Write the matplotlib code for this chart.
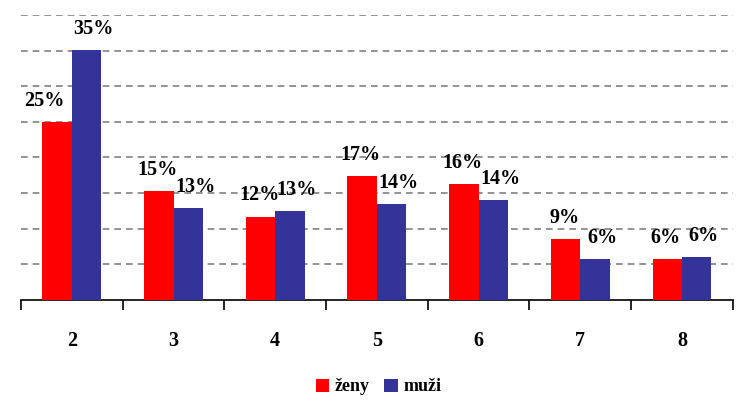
import matplotlib.pyplot as plt
import numpy as np

# datos (porcentajes)
kategorie = ["2", "3", "4", "5", "6", "7", "8"]
zeny = [25.0, 15.3, 11.7, 17.4, 16.3, 8.6, 5.8]
muzi = [35.1, 12.9, 12.5, 13.5, 14.0, 5.8, 6.0]
zeny_popisky = ["25%", "15%", "12%", "17%", "16%", "9%", "6%"]
muzi_popisky = ["35%", "13%", "13%", "14%", "14%", "6%", "6%"]

plt.rcParams['font.family'] = ['Liberation Serif', 'DejaVu Serif']
plt.rcParams['font.weight'] = 'bold'

fig = plt.figure(figsize=(7.38, 4.01), dpi=100)
ax = fig.add_axes([0.0285, 0.252, 0.9645, 0.7106])

x = np.arange(len(kategorie))
sirka = 0.29

b1 = ax.bar(x - sirka / 2, zeny, sirka, color='#FF0000', label='ženy', zorder=3)
b2 = ax.bar(x + sirka / 2, muzi, sirka, color='#333399', label='muži', zorder=3)

for i in range(len(x)):
    # el rojo se aparta a la izquierda si el azul es mucho mas alto
    dx = -9 if muzi[i] - zeny[i] > 5 else -1
    ax.annotate(zeny_popisky[i], (x[i] - sirka / 2, zeny[i]), xytext=(dx, 8),
                textcoords='offset points', ha='center', va='bottom',
                fontsize=14.5, fontweight='bold')
    ax.annotate(muzi_popisky[i], (x[i] + sirka / 2, muzi[i]), xytext=(5, 8),
                textcoords='offset points', ha='center', va='bottom',
                fontsize=14.5, fontweight='bold')

ax.set_xlim(-0.5, len(kategorie) - 0.5)
ax.set_ylim(0, 40)
ax.set_yticks(np.arange(5, 41, 5))
ax.yaxis.grid(True, color='#808080', linestyle=(0, (4, 3)), linewidth=1.2, zorder=0)
ax.tick_params(axis='y', left=False, labelleft=False)

ax.set_xticks(np.arange(-0.5, len(kategorie), 1.0))
ax.set_xticklabels([])
ax.set_xticks(x, minor=True)
ax.set_xticklabels(kategorie, minor=True, fontsize=14.5, fontweight='bold')
ax.tick_params(axis='x', which='major', direction='out', length=7, width=1.2, color='black')
ax.tick_params(axis='x', which='minor', length=0, pad=22)

for s in ['top', 'right', 'left']:
    ax.spines[s].set_visible(False)
ax.spines['bottom'].set_linewidth(1.2)

fig.legend(handles=[b1, b2], loc='center', bbox_to_anchor=(0.513, 0.035), ncol=2,
           frameon=False, handlelength=0.75, handleheight=0.75,
           handletextpad=0.3, columnspacing=0.8, prop={'weight': 'bold', 'size': 13})

fig.savefig('out.png', dpi=100)
